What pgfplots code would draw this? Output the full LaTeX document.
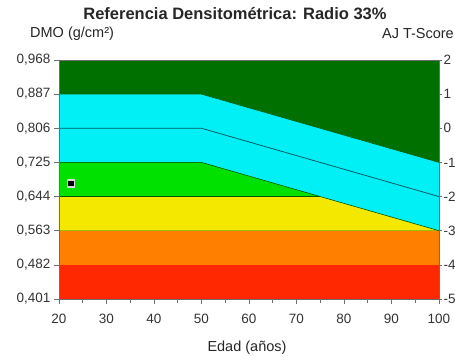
\documentclass[border=0pt]{standalone}
\usepackage{pgfplots}
\pgfplotsset{compat=1.18}
\usepackage{fontspec}
\setmainfont{Liberation Sans}
\definecolor{dgreen}{RGB}{0,112,0}
\definecolor{cyanc}{RGB}{0,240,245}
\definecolor{greenc}{RGB}{0,225,0}
\definecolor{yellowc}{RGB}{245,232,0}
\definecolor{orangec}{RGB}{255,128,0}
\definecolor{redc}{RGB}{255,40,0}
\definecolor{linec}{RGB}{0,90,100}
\definecolor{axc}{RGB}{110,110,110}
\begin{document}
\begin{tikzpicture}
\pgfplotsset{every axis/.append style={
  /pgf/number format/assume math mode=true,
  tick label style={font=\fontsize{13.5bp}{15bp}\selectfont, text=black!80},
  axis line style={axc}, tick style={axc, line width=0.6pt},
}}
\begin{axis}[at={(0,0)}, anchor=south west, scale only axis,
  width=380bp, height=239bp,
  xmin=20, xmax=100, ymin=0.401, ymax=0.968,
  axis on top,
  xtick={20,30,...,100}, xticklabels={20,30,40,50,60,70,80,90,100},
  minor xtick={25,35,...,95},
  xtick pos=bottom, ytick pos=left,
  tick align=outside,
  major tick length=5bp, minor tick length=3.5bp,
  ytick={0.401,0.482,0.563,0.644,0.725,0.806,0.887,0.968},
  yticklabels={{0,401},{0,482},{0,563},{0,644},{0,725},{0,806},{0,887},{0,968}},
  yticklabel style={xshift=0bp},
  xticklabel style={yshift=-7bp},
]
\addplot[fill=dgreen, draw=none] coordinates {(20,0.401) (100,0.401) (100,0.968) (20,0.968)} -- cycle;
\addplot[fill=cyanc, draw=none] coordinates {(20,0.887) (50,0.887) (100,0.725) (100,0.563) (50,0.725) (20,0.725)} -- cycle;
\addplot[fill=greenc, draw=none] coordinates {(20,0.725) (50,0.725) (75,0.644) (20,0.644)} -- cycle;
\addplot[fill=yellowc, draw=none] coordinates {(20,0.644) (75,0.644) (100,0.563) (20,0.563)} -- cycle;
\addplot[fill=orangec, draw=none] coordinates {(20,0.482) (100,0.482) (100,0.563) (20,0.563)} -- cycle;
\addplot[fill=redc, draw=none] coordinates {(20,0.401) (100,0.401) (100,0.482) (20,0.482)} -- cycle;
\addplot[linec, line width=0.8pt] coordinates {(20,0.806) (50,0.806) (100,0.644)};
\addplot[dgreen!80!black, line width=0.6pt] coordinates {(20,0.887) (50,0.887) (100,0.725)};
\addplot[dgreen!80!black, line width=0.6pt] coordinates {(20,0.725) (50,0.725) (100,0.563)};
\addplot[dgreen!80!black, line width=0.6pt] coordinates {(20,0.644) (75,0.644)};
\addplot[only marks, mark=square*, mark size=3.6bp, mark options={fill=black, draw=black!15, line width=1.4pt}] coordinates {(22.5,0.675)};
\end{axis}
\begin{axis}[at={(0,0)}, anchor=south west, scale only axis,
  width=380bp, height=239bp,
  xmin=20, xmax=100, ymin=-5, ymax=2,
  axis x line=none, axis y line*=right,
  ytick={-5,-4,...,2}, yticklabels={-5,-4,-3,-2,-1,0,1,2},
  tick align=outside, major tick length=3bp,
  yticklabel style={xshift=-2bp},
]
\addplot[draw=none] coordinates {(20,0)};
\end{axis}
\node[font=\bfseries\fontsize{16.5bp}{18bp}\selectfont, text=black!85] at (176bp,285bp) {Referencia Densitométrica: Radio 33\%};
\node[anchor=west, font=\fontsize{14.5bp}{16bp}\selectfont, text=black!85, inner sep=0pt] at (-29bp,265bp) {DMO (g/cm²)};
\node[anchor=east, font=\fontsize{14.5bp}{16bp}\selectfont, text=black!85, inner sep=0pt] at (395bp,265bp) {AJ T-Score};
\node[font=\fontsize{14.5bp}{16bp}\selectfont, text=black!85] at (188bp,-49bp) {Edad (años)};
\pgfresetboundingbox
\path[use as bounding box] (-59bp,-58bp) rectangle (396bp,299bp);
\end{tikzpicture}
\end{document}
